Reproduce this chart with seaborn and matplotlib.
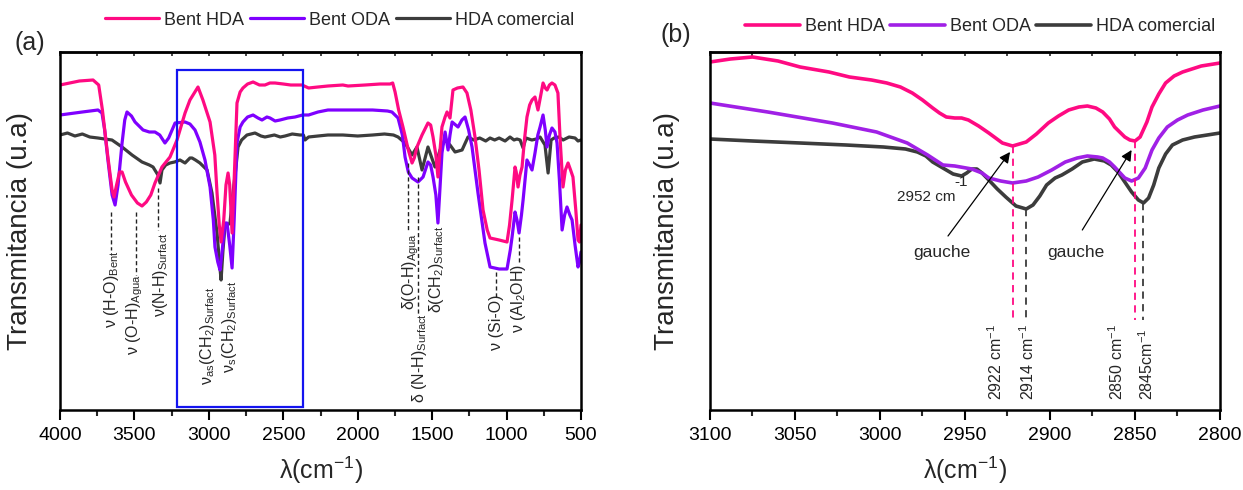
import numpy as np
import pandas as pd
import matplotlib
matplotlib.use("Agg")
import matplotlib.pyplot as plt
from matplotlib.ticker import MultipleLocator
import seaborn as sns

# ---------------- FTIR spectra, panel (a): 4000-500 cm-1 ----------------
wn_hda_a = [4000, 3870, 3778, 3740, 3715, 3680, 3650, 3637, 3620, 3600, 3583, 3560, 3520, 3480, 3449,
            3420, 3390, 3362, 3315, 3261, 3214, 3160, 3127, 3073, 3040, 2992, 2960, 2945, 2930, 2918,
            2900, 2885, 2871, 2860, 2844, 2830, 2811, 2790, 2771, 2740, 2703, 2660, 2623, 2590, 2556,
            2500, 2450, 2374, 2330, 2267, 2200, 2100, 2065, 1950, 1850, 1783, 1765, 1749, 1725, 1696,
            1660, 1635, 1620, 1602, 1568, 1528, 1510, 1494, 1475, 1461, 1450, 1434, 1413, 1400, 1380,
            1360, 1330, 1293, 1266, 1240, 1212, 1185, 1158, 1130, 1111, 1050, 997, 980, 963, 943,
            935, 923, 910, 896, 880, 863, 845, 829, 809, 789, 770, 755, 740, 728, 712,
            695, 675, 655, 640, 621, 605, 587, 570, 554, 535, 520, 510, 500]
t_hda_a = [325, 329, 330, 325, 300, 255, 220, 213, 225, 238, 238, 228, 215, 207, 204,
           208, 215, 227, 243, 253, 270, 297, 310, 323, 310, 288, 255, 217, 185, 168,
           190, 225, 237, 225, 177, 230, 307, 318, 322, 326, 328, 325, 325, 327, 327,
           326, 325, 325, 322, 323, 324, 325, 324, 325, 326, 326, 327, 318, 300, 283,
           260, 247, 252, 263, 275, 287, 285, 273, 255, 233, 255, 283, 293, 298, 292,
           320, 322, 323, 317, 300, 273, 240, 200, 180, 172, 170, 168, 185, 210, 243,
           238, 223, 235, 243, 270, 293, 305, 310, 313, 300, 315, 327, 322, 320, 325,
           327, 325, 317, 270, 223, 240, 247, 240, 233, 200, 170, 168, 185]

wn_oda_a = [4000, 3850, 3745, 3718, 3700, 3678, 3650, 3630, 3610, 3583, 3565, 3550, 3520, 3496, 3442,
            3400, 3362, 3330, 3295, 3270, 3227, 3160, 3127, 3093, 3060, 3026, 2992, 2970, 2959, 2940,
            2925, 2910, 2892, 2878, 2860, 2844, 2830, 2811, 2790, 2771, 2740, 2703, 2670, 2643, 2610,
            2589, 2555, 2522, 2470, 2421, 2370, 2330, 2267, 2200, 2065, 1900, 1800, 1770, 1729, 1700,
            1682, 1660, 1635, 1595, 1561, 1528, 1510, 1494, 1475, 1461, 1450, 1434, 1413, 1393, 1380,
            1366, 1326, 1300, 1279, 1255, 1232, 1192, 1145, 1111, 1050, 997, 975, 963, 943, 930,
            916, 900, 889, 863, 845, 829, 809, 790, 775, 755, 740, 728, 712, 695, 675,
            661, 645, 627, 610, 594, 575, 560, 540, 520, 510, 500]
t_oda_a = [295, 298, 300, 297, 280, 250, 215, 205, 225, 267, 290, 298, 294, 288, 280,
           278, 278, 275, 267, 272, 287, 288, 286, 280, 268, 250, 223, 190, 163, 148,
           140, 160, 187, 187, 165, 142, 190, 267, 283, 288, 293, 295, 292, 290, 293,
           292, 289, 290, 292, 293, 295, 295, 298, 300, 300, 300, 299, 298, 292, 275,
           253, 238, 232, 228, 233, 248, 245, 233, 215, 187, 215, 257, 278, 260, 275,
           288, 283, 290, 293, 280, 263, 217, 167, 143, 141, 141, 160, 173, 198, 190,
           177, 195, 210, 250, 245, 240, 257, 275, 283, 295, 280, 263, 275, 282, 278,
           267, 230, 180, 195, 203, 195, 190, 165, 143, 148, 158]

wn_com_a = [4000, 3950, 3900, 3850, 3800, 3745, 3700, 3651, 3583, 3516, 3449, 3400, 3375, 3342, 3328,
            3315, 3290, 3261, 3230, 3194, 3160, 3127, 3113, 3090, 3060, 3012, 2979, 2945, 2930, 2918,
            2905, 2892, 2858, 2838, 2820, 2804, 2780, 2744, 2690, 2650, 2623, 2560, 2520, 2488, 2440,
            2388, 2365, 2354, 2330, 2267, 2200, 2100, 2000, 1900, 1820, 1760, 1729, 1682, 1635, 1602,
            1568, 1528, 1481, 1447, 1413, 1380, 1346, 1299, 1259, 1220, 1180, 1140, 1111, 1080, 1050,
            1010, 977, 950, 930, 909, 889, 870, 830, 800, 775, 742, 721, 701, 680, 650,
            620, 607, 580, 540, 520, 500]
t_com_a = [275, 277, 274, 276, 273, 272, 271, 270, 263, 255, 248, 245, 243, 235, 227,
           240, 245, 247, 248, 250, 247, 252, 252, 250, 247, 240, 217, 177, 150, 130,
           160, 183, 187, 217, 240, 263, 270, 275, 277, 274, 273, 275, 273, 274, 276,
           275, 275, 270, 273, 274, 275, 275, 274, 275, 276, 275, 273, 267, 255, 263,
           240, 263, 243, 260, 270, 265, 258, 260, 273, 270, 272, 269, 272, 270, 272,
           269, 273, 270, 271, 270, 262, 272, 270, 271, 273, 265, 237, 270, 272, 273,
           270, 271, 273, 272, 269, 270]

# ---------------- panel (b): zoom on the CH2 stretching region ----------------
wn_hda_b = [3100, 3088, 3075, 3060, 3047, 3030, 3018, 3005, 2996, 2988, 2981, 2975, 2969, 2965, 2961,
            2956, 2952, 2948, 2942, 2936, 2928, 2922, 2914, 2908, 2901, 2895, 2889, 2883, 2878, 2873,
            2869, 2865, 2862, 2856, 2853, 2850, 2847, 2843, 2840, 2836, 2832, 2827, 2822, 2811, 2800]
t_hda_b = [348, 351, 353, 349, 343, 338, 333, 330, 327, 323, 317, 310, 302, 297, 293,
           292, 292, 290, 284, 277, 267, 264, 268, 276, 287, 294, 300, 303, 304, 302,
           298, 291, 283, 273, 270, 269, 273, 288, 303, 316, 327, 334, 338, 344, 347]

wn_oda_b = [3100, 3066, 3028, 3002, 2984, 2972, 2963, 2956, 2946, 2940, 2936, 2929, 2922, 2914, 2907,
            2899, 2891, 2884, 2878, 2872, 2869, 2865, 2862, 2856, 2852, 2848, 2844, 2840, 2836, 2831,
            2825, 2819, 2810, 2800]
t_oda_b = [307, 298, 287, 278, 267, 255, 245, 244, 241, 237, 232, 229, 227, 229, 233,
           240, 248, 252, 254, 253, 252, 248, 243, 232, 229, 232, 242, 260, 272, 283,
           290, 295, 300, 304]

wn_com_b = [3100, 3075, 3047, 3020, 2998, 2985, 2978, 2973, 2969, 2965, 2961, 2957, 2952, 2949, 2946,
            2943, 2940, 2936, 2931, 2926, 2920, 2914, 2910, 2906, 2902, 2897, 2893, 2887, 2881, 2874,
            2868, 2864, 2860, 2856, 2852, 2848, 2845, 2842, 2839, 2836, 2832, 2828, 2822, 2815, 2800]
t_com_b = [271, 269, 267, 265, 263, 261, 258, 254, 248, 244, 240, 236, 234, 237, 241,
           241, 237, 230, 221, 213, 204, 201, 205, 214, 225, 232, 235, 241, 248, 251,
           249, 245, 238, 228, 218, 210, 207, 212, 225, 242, 256, 265, 270, 273, 277]

samples = ["Bent HDA", "Bent ODA", "HDA comercial"]
xticks_a = [4000, 3500, 3000, 2500, 2000, 1500, 1000, 500]
xticks_b = [3100, 3050, 3000, 2950, 2900, 2850, 2800]

# ---------------- style ----------------
sns.set_theme(style="ticks")
plt.rcParams["font.family"] = ["Liberation Sans", "DejaVu Sans"]
plt.rcParams["mathtext.fontset"] = "custom"
plt.rcParams["mathtext.rm"] = "Liberation Sans"
plt.rcParams["mathtext.it"] = "Liberation Sans:italic"
plt.rcParams["mathtext.bf"] = "Liberation Sans:bold"
plt.rcParams["mathtext.default"] = "regular"
plt.rcParams["axes.linewidth"] = 1.8

PINK = "#FF0A82"
VIOLET_A = "#7F00FF"
VIOLET_B = "#A020E6"
GREY = "#3C3C3C"

fig = plt.figure(figsize=(12.43, 4.90), dpi=100)
ax_a = fig.add_axes([60 / 1243, 80 / 490, 521 / 1243, 358 / 490])
ax_b = fig.add_axes([710 / 1243, 80 / 490, 510 / 1243, 358 / 490])


def frame(df, wn, t, name):
    return pd.DataFrame({"wn": wn, "T": t, "sample": name})


def draw(ax, series, colors, lw):
    # commercial amine first so the organoclay curves sit on top
    handles = {}
    for (wn, t, name), col in reversed(list(zip(series, colors))):
        d = pd.DataFrame({"wn": wn, "T": t})
        sns.lineplot(data=d, x="wn", y="T", ax=ax, color=col, lw=lw, sort=False,
                     estimator=None, label=name, solid_joinstyle="round",
                     solid_capstyle="round")
        handles[name] = ax.get_lines()[-1]
    return [handles[n] for n in samples]


def style_axis(ax, xmax, xmin, major, minor_step):
    ax.set_xlim(xmax, xmin)
    ax.set_ylim(0, 358)
    ax.set_xticks(major)
    ax.set_xticklabels([str(v) for v in major])
    ax.xaxis.set_minor_locator(MultipleLocator(minor_step))
    ax.tick_params(axis="x", which="major", direction="out", length=7, width=1.5,
                   labelsize=14, pad=5, colors="black")
    ax.tick_params(axis="x", which="minor", direction="out", length=4, width=1.5)
    ax.set_yticks([])
    for s in ax.spines.values():
        s.set_visible(True)
        s.set_linewidth(1.8)
        s.set_color("black")
    top = ax.secondary_xaxis("top")
    top.set_xticks(np.arange(min(xmax, xmin), max(xmax, xmin) + 1, minor_step))
    top.tick_params(axis="x", direction="in", length=3, width=1.2, labeltop=False)
    top.spines["top"].set_linewidth(1.8)
    ax.set_xlabel(r"λ(cm$^{-1}$)", fontsize=18)
    ax.xaxis.set_label_coords(0.5, -0.125)
    ax.xaxis.label.set_va("top")
    ax.set_ylabel("Transmitancia (u.a)", fontsize=20)


# ---------------- panel (a) ----------------
h_a = draw(ax_a, [(wn_hda_a, t_hda_a, samples[0]), (wn_oda_a, t_oda_a, samples[1]),
                  (wn_com_a, t_com_a, samples[2])], [PINK, VIOLET_A, GREY], 2.3)
style_axis(ax_a, 4000, 500, xticks_a, 250)
ax_a.yaxis.set_label_coords(-0.052, 0.5)
ax_a.legend(h_a, samples, loc="center", bbox_to_anchor=(0.537, 1.089), ncol=3, frameon=False,
            fontsize=13, handlelength=3.0, handletextpad=0.3, columnspacing=0.3, borderpad=0)

# highlighted CH2 stretching window
ax_a.add_patch(plt.Rectangle((3214, 3.3), 2368 - 3214, 340 - 3.3, fill=False,
                             edgecolor="#1414F0", lw=1.6, zorder=5))

# band assignments: (label, text x, text bottom, dash x, dash top, dash bottom)
bands_a = [
    (r"ν (H-O)$_{Bent}$", 3651, 82, 3659, 198, 160),
    (r"ν (O-H)$_{Agua}$", 3496, 55, 3491, 198, 135),
    (r"ν(N-H)$_{Surfact}$", 3328, 93, 3344, 222, 180),
    (r"ν$_{as}$(CH$_2$)$_{Surfact}$", 3012, 25, None, None, None),
    (r"ν$_s$(CH$_2$)$_{Surfact}$", 2858, 37, None, None, None),
    (r"δ(O-H)$_{Agua}$", 1642, 100, 1662, 247, 180),
    (r"δ (N-H)$_{Surfact}$", 1582, 7, 1592, 233, 95),
    (r"δ(CH$_2$)$_{Surfact}$", 1474, 97, None, None, None),
    (r"ν (Si-O)", 1071, 60, 1071, 138, 112),
    (r"ν (Al$_2$OH)", 923, 77, 916, 173, 147),
]
for lab, tx, ty, dx, d0, d1 in bands_a:
    ax_a.text(tx, ty, lab, rotation=90, ha="center", va="bottom", fontsize=11.5,
              rotation_mode="default")
    if dx is not None:
        ax_a.plot([dx, dx], [d0, d1], color="#222222", lw=1.0, ls=(0, (3, 2)))

fig.text(14 / 1243, 1 - 43 / 490, "(a)", fontsize=18, va="center", ha="left")

# ---------------- panel (b) ----------------
h_b = draw(ax_b, [(wn_hda_b, t_hda_b, samples[0]), (wn_oda_b, t_oda_b, samples[1]),
                  (wn_com_b, t_com_b, samples[2])], [PINK, VIOLET_B, GREY], 2.6)
style_axis(ax_b, 3100, 2800, xticks_b, 25)
ax_b.yaxis.set_label_coords(-0.058, 0.5)
ax_b.legend(h_b, samples, loc="center", bbox_to_anchor=(0.53, 1.07), ncol=3, frameon=False,
            fontsize=13, handlelength=3.0, handletextpad=0.3, columnspacing=0.3, borderpad=0)

# peak positions: (value, colour, curve minimum, label x)
peaks_b = [(2922, PINK, 264, 2932), (2914, GREY, 201, 2913),
           (2850, PINK, 269, 2861), (2845, GREY, 207, 2843)]
for val, col, top, lx in peaks_b:
    ax_b.plot([val, val], [top, 90], color=col, lw=1.3, ls=(0, (4, 3)))
    sep = "" if val == 2845 else " "
    ax_b.text(lx, 10, f"{val}{sep}cm$^{{-1}}$", rotation=90, ha="center", va="bottom",
              fontsize=11.5)

ax_b.text(2973, 213, "2952 cm", ha="center", va="center", fontsize=11)
ax_b.text(2952.5, 228, "-1", ha="center", va="center", fontsize=11)
for tx, ty, ax0, ay0, ax1, ay1 in [(2963.5, 158, 2960, 174, 2923.5, 258),
                                    (2885, 158, 2881, 180, 2852, 260)]:
    ax_b.text(tx, ty, "gauche", ha="center", va="center", fontsize=12.5)
    ax_b.annotate("", xy=(ax1, ay1), xytext=(ax0, ay0),
                  arrowprops=dict(arrowstyle="-|>", color="black", lw=0.9,
                                  mutation_scale=16, shrinkA=0, shrinkB=0))

fig.text(660 / 1243, 1 - 35 / 490, "(b)", fontsize=18, va="center", ha="left")

fig.savefig("out.png", dpi=100)
